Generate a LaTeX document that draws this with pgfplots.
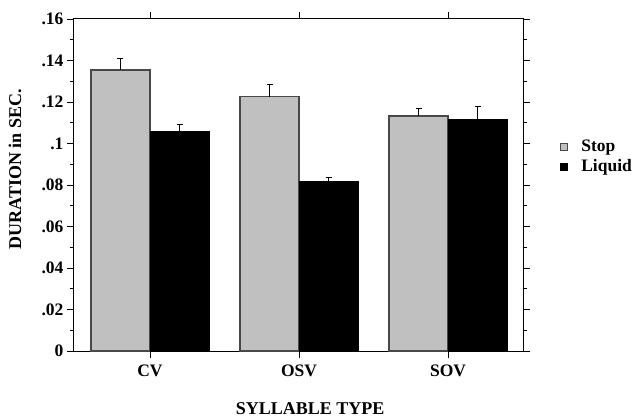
\documentclass[border=0pt]{standalone}
\usepackage{pgfplots}
\pgfplotsset{compat=1.18}
\usepackage{fontspec}
\setmainfont{Liberation Serif}
\definecolor{barg}{HTML}{C0C0C0}
\definecolor{edgeg}{HTML}{484848}
\newcommand{\tkf}{\bfseries\fontsize{17.5}{20}\selectfont}
\newcommand{\lbf}{\bfseries\fontsize{18}{21}\selectfont}
\begin{document}
\begin{tikzpicture}
\begin{axis}[
  scale only axis, width=449pt, height=332pt,
  xmin=-0.51, xmax=2.503, ymin=0, ymax=0.16,
  xtick={0,1,2}, xticklabels={CV,OSV,SOV},
  ytick={0,0.02,0.04,0.06,0.08,0.1,0.12,0.14,0.16},
  yticklabels={0,.02,.04,.06,.08,.1,.12,.14,.16},
  minor y tick num=1,
  tick align=outside, major tick length=7pt, minor tick length=4pt,
  tick style={black, line width=0.8pt},
  axis line style={line width=1pt},
  font=\tkf,
  ticklabel style={font=\tkf},
  xticklabel style={yshift=-3pt},
  xlabel={SYLLABLE TYPE}, ylabel={DURATION in SEC.},
  label style={font=\lbf},
  xlabel style={at={(axis description cs:0.526,-0.1747)}, anchor=center},
  ylabel style={at={(axis description cs:-0.1314,0.548)}, anchor=center},
  ybar, bar width=59pt,
  legend style={at={(rel axis cs:1,0.584)}, anchor=west, xshift=37pt,
    draw=none, fill=none, inner sep=0pt, font=\tkf, row sep=4pt,
    nodes={inner sep=0pt, anchor=base west, text height=12pt, text depth=4pt},
    /tikz/every odd column/.append style={column sep=14pt}},
  legend image code/.code={%
    \draw[#1, line width=0.6pt] (0pt,0.5pt) rectangle (6.5pt,7.5pt);},
  error bars/error bar style={black, line width=0.8pt},
  error bars/error mark options={rotate=90, mark size=3pt, black, line width=0.8pt},
]
\coordinate (ll) at (rel axis cs:0,0);
\addplot[fill=barg, draw=edgeg, line width=1.2pt, bar shift=-29.5pt,
  error bars/.cd, y dir=plus, y explicit]
  coordinates {(0,0.1354) +- (0,0.0058) (1,0.1226) +- (0,0.0057) (2,0.1133) +- (0,0.0038)};
\addlegendentry{Stop}
\addplot[fill=black, draw=black, line width=1pt, bar shift=29.5pt,
  error bars/.cd, y dir=plus, y explicit]
  coordinates {(0,0.1059) +- (0,0.0035) (1,0.0816) +- (0,0.0021) (2,0.1115) +- (0,0.0062)};
\addlegendentry{Liquid}
\end{axis}
\pgfresetboundingbox
\path[use as bounding box] (ll) ++(-74pt,-67pt) rectangle ++(634pt,418pt);
\end{tikzpicture}
\end{document}
